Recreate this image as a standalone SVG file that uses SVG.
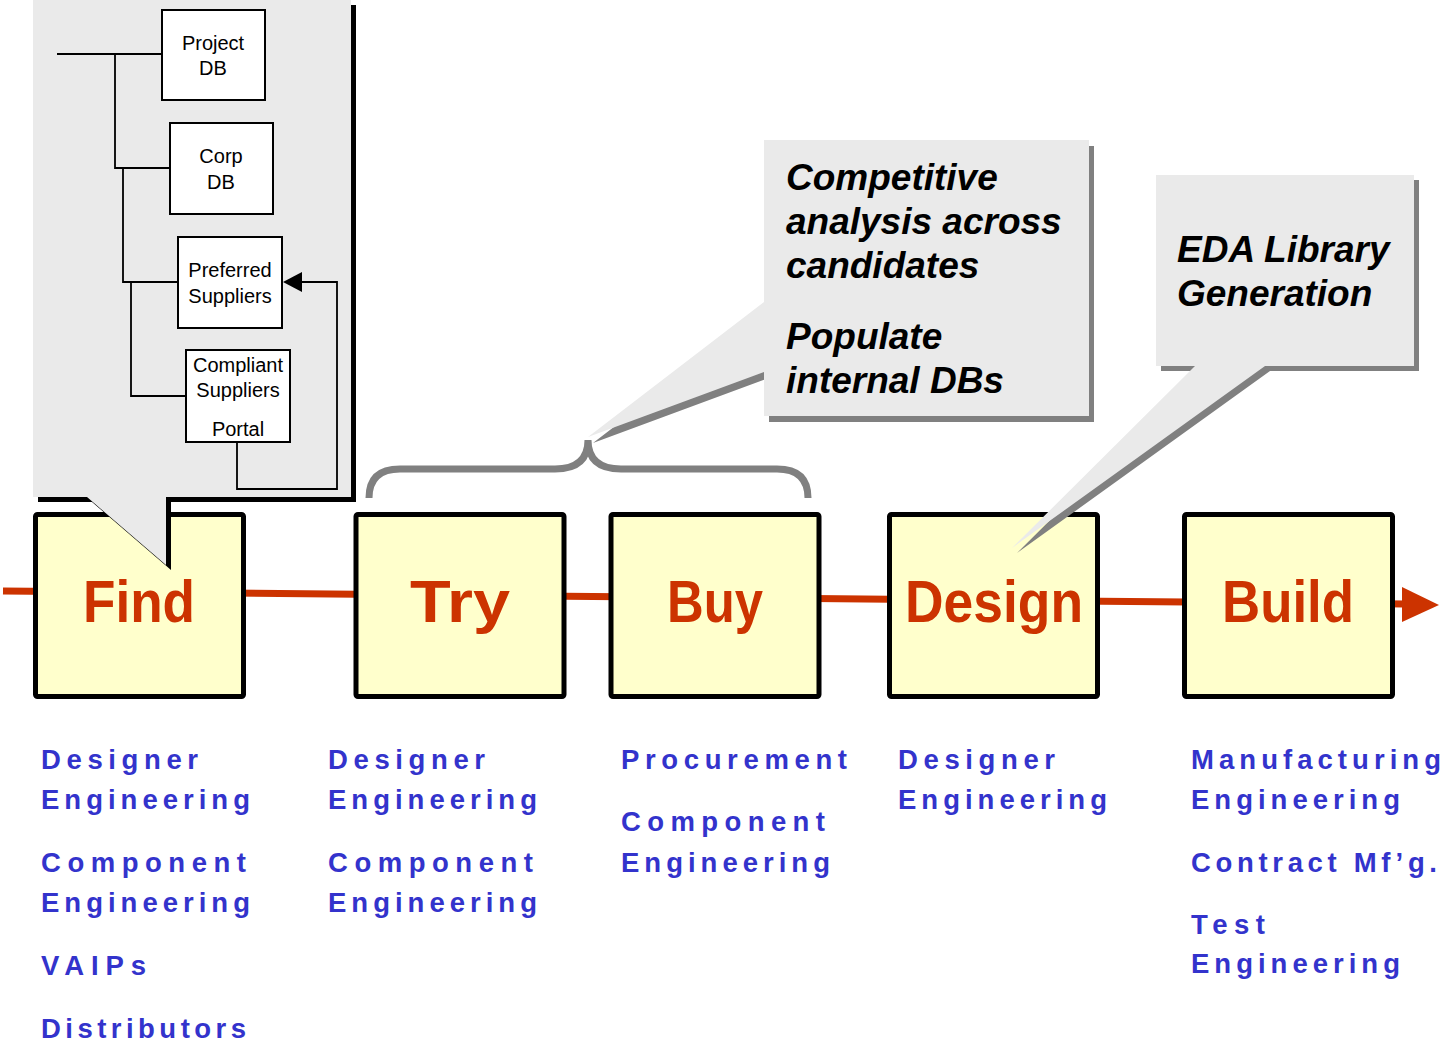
<svg xmlns="http://www.w3.org/2000/svg" width="1445" height="1046" viewBox="0 0 1445 1046">
<style>
.stage{fill:#FFFFCC;stroke:#000;stroke-width:5;}
.stxt{font-family:"Liberation Sans",Arial,sans-serif;font-weight:bold;font-size:60px;fill:#CC3300;text-anchor:middle;}
.role{font-family:"Liberation Sans",Arial,sans-serif;font-weight:bold;font-size:27.5px;fill:#3333CC;}
.co{fill:#EAEAEA;}
.sh{fill:#808080;}
.note{font-family:"Liberation Sans",Arial,sans-serif;font-weight:bold;font-style:italic;font-size:37px;fill:#000;}
.db{fill:#fff;stroke:#000;stroke-width:2;}
.dbt{font-family:"Liberation Sans",Arial,sans-serif;font-size:20px;fill:#000;text-anchor:middle;}
.wire{fill:none;stroke:#000;stroke-width:1.8;}
</style>
<rect width="1445" height="1046" fill="#fff"/>

<g id="connectors">
  <line x1="3" y1="591" x2="1405" y2="604" stroke="#CC3300" stroke-width="7"/>
  <polygon points="1402,587 1439,605 1402,622" fill="#CC3300"/>
</g>

<g id="find">
  <rect class="stage" x="35.5" y="514.5" width="208" height="182" rx="2"/>
  <text class="stxt" x="139" y="622" textLength="112" lengthAdjust="spacingAndGlyphs">Find</text>
</g>
<g id="try">
  <rect class="stage" x="356" y="514.5" width="208" height="182" rx="2"/>
  <text class="stxt" x="460" y="622" textLength="100" lengthAdjust="spacingAndGlyphs">Try</text>
</g>
<g id="buy">
  <rect class="stage" x="611" y="514.5" width="208" height="182" rx="2"/>
  <text class="stxt" x="715" y="622" textLength="96" lengthAdjust="spacingAndGlyphs">Buy</text>
</g>
<g id="design">
  <rect class="stage" x="889.5" y="514.5" width="208" height="182" rx="2"/>
  <text class="stxt" x="994" y="622" textLength="178" lengthAdjust="spacingAndGlyphs">Design</text>
</g>
<g id="build">
  <rect class="stage" x="1184.5" y="514.5" width="208" height="182" rx="2"/>
  <text class="stxt" x="1288" y="622" textLength="132" lengthAdjust="spacingAndGlyphs">Build</text>
</g>

<g id="brace">
  <path d="M369,498 Q369,469 400,469 H555 Q588,469 588,440 Q588,469 621,469 H777 Q808,469 808,498" fill="none" stroke="#808080" stroke-width="7"/>
</g>

<g id="callout-find">
  <path d="M38,5 H356 V502 H171 V570 L92,502 H38 Z" fill="#000"/>
  <path class="co" d="M33,0 H351 V497 H166 V565 L87,497 H33 Z"/>
  <g id="callout-find-links">
    <path class="wire" d="M57,54 H161 M115,54 V168 H169 M123,168 V282 H178 M131,282 V396 H186"/>
    <path class="wire" d="M237,442 V489 H337 V282 H300"/>
    <polygon points="283,282 302,272 302,292" fill="#000"/>
  </g>
  <g id="project-db">
    <rect class="db" x="162" y="10" width="103" height="90"/>
    <text class="dbt" x="213" y="50">Project</text>
    <text class="dbt" x="213" y="75">DB</text>
  </g>
  <g id="corp-db">
    <rect class="db" x="170" y="123" width="103" height="91"/>
    <text class="dbt" x="221" y="163">Corp</text>
    <text class="dbt" x="221" y="189">DB</text>
  </g>
  <g id="preferred-suppliers">
    <rect class="db" x="178" y="237" width="104" height="91"/>
    <text class="dbt" x="230" y="277">Preferred</text>
    <text class="dbt" x="230" y="303">Suppliers</text>
  </g>
  <g id="compliant-portal">
    <rect class="db" x="186" y="350" width="104" height="92"/>
    <text class="dbt" x="238" y="372">Compliant</text>
    <text class="dbt" x="238" y="397">Suppliers</text>
    <text class="dbt" x="238" y="436">Portal</text>
  </g>
</g>

<g id="callout-try-buy">
  <path class="sh" d="M769,146 H1094 V422 H769 V378 L593,443 L769,308 Z"/>
  <path class="co" d="M764,140 H1089 V416 H764 V372 L588,437 L764,302 Z"/>
  <text class="note" x="786" y="190">Competitive</text>
  <text class="note" x="786" y="234">analysis across</text>
  <text class="note" x="786" y="278">candidates</text>
  <text class="note" x="786" y="349">Populate</text>
  <text class="note" x="786" y="393">internal DBs</text>
</g>

<g id="callout-design">
  <path class="sh" d="M1161,180 H1419 V371 H1270 L1017,553 L1200,371 H1161 Z"/>
  <path class="co" d="M1156,175 H1414 V366 H1265 L1012,548 L1195,366 H1156 Z"/>
  <text class="note" x="1177" y="262">EDA Library</text>
  <text class="note" x="1177" y="306">Generation</text>
</g>

<g id="roles-find">
  <text class="role" x="41" y="769" textLength="157" lengthAdjust="spacing">Designer</text>
  <text class="role" x="41" y="809" textLength="209" lengthAdjust="spacing">Engineering</text>
  <text class="role" x="41" y="872" textLength="205" lengthAdjust="spacing">Component</text>
  <text class="role" x="41" y="912" textLength="209" lengthAdjust="spacing">Engineering</text>
  <text class="role" x="41" y="975" textLength="105" lengthAdjust="spacing">VAIPs</text>
  <text class="role" x="41" y="1038" textLength="205" lengthAdjust="spacing">Distributors</text>
</g>
<g id="roles-try">
  <text class="role" x="328" y="769" textLength="157" lengthAdjust="spacing">Designer</text>
  <text class="role" x="328" y="809" textLength="209" lengthAdjust="spacing">Engineering</text>
  <text class="role" x="328" y="872" textLength="205" lengthAdjust="spacing">Component</text>
  <text class="role" x="328" y="912" textLength="209" lengthAdjust="spacing">Engineering</text>
</g>
<g id="roles-buy">
  <text class="role" x="621" y="769" textLength="226" lengthAdjust="spacing">Procurement</text>
  <text class="role" x="621" y="831" textLength="204" lengthAdjust="spacing">Component</text>
  <text class="role" x="621" y="872" textLength="209" lengthAdjust="spacing">Engineering</text>
</g>
<g id="roles-design">
  <text class="role" x="898" y="769" textLength="157" lengthAdjust="spacing">Designer</text>
  <text class="role" x="898" y="809" textLength="209" lengthAdjust="spacing">Engineering</text>
</g>
<g id="roles-build">
  <text class="role" x="1191" y="769" textLength="250" lengthAdjust="spacing">Manufacturing</text>
  <text class="role" x="1191" y="809" textLength="209" lengthAdjust="spacing">Engineering</text>
  <text class="role" x="1191" y="872" textLength="246" lengthAdjust="spacing">Contract Mf’g.</text>
  <text class="role" x="1191" y="934" textLength="74" lengthAdjust="spacing">Test</text>
  <text class="role" x="1191" y="973" textLength="209" lengthAdjust="spacing">Engineering</text>
</g>
</svg>
